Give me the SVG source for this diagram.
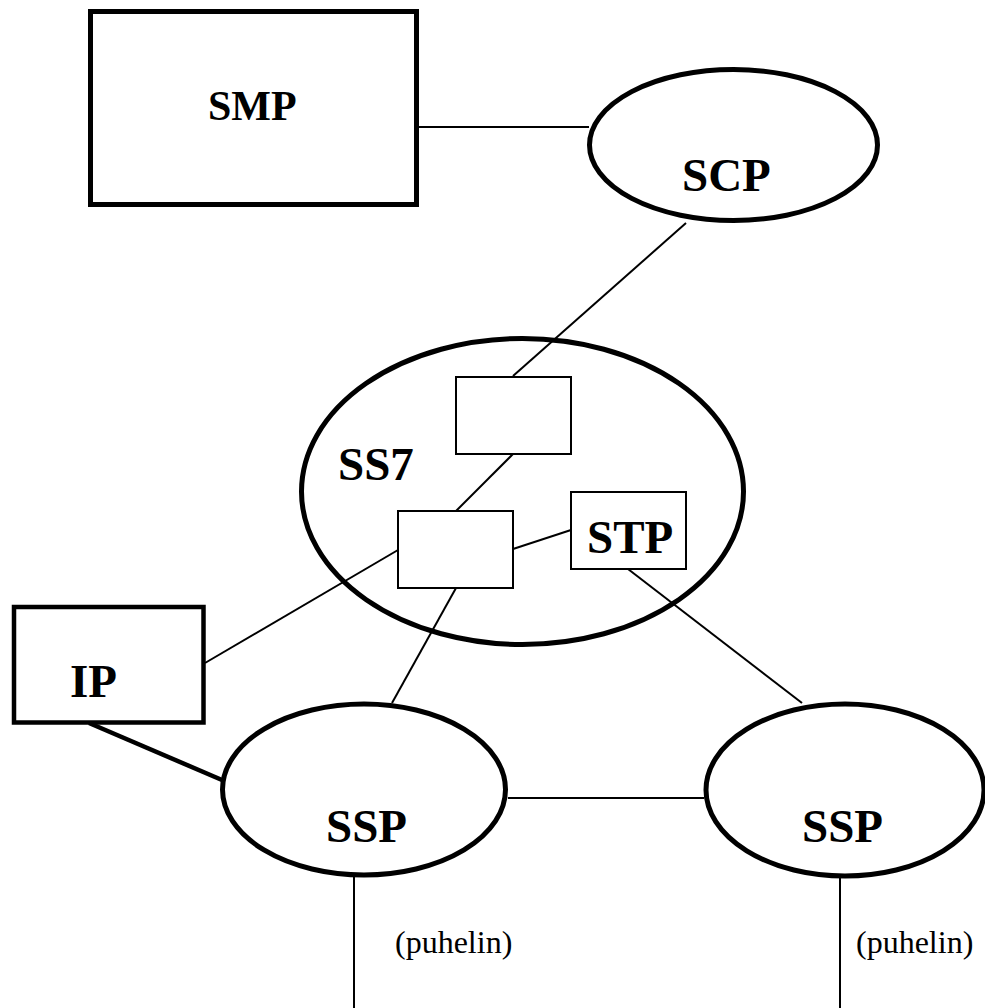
<svg xmlns="http://www.w3.org/2000/svg" width="985" height="1008" viewBox="0 0 985 1008">
  <style>
    .bg { fill: #ffffff; }
    .thick { fill: #ffffff; stroke: #000000; stroke-width: 5; }
    .thin { fill: #ffffff; stroke: #000000; stroke-width: 2; }
    .link { fill: none; stroke: #000000; stroke-width: 2; }
    .link-bold { fill: none; stroke: #000000; stroke-width: 4.5; }
    .label { font-family: "Liberation Serif", "Times New Roman", serif; font-weight: bold; font-size: 47px; fill: #000000; }
    .small { font-family: "Liberation Serif", "Times New Roman", serif; font-size: 32px; fill: #000000; }
  </style>
  <rect class="bg" x="0" y="0" width="985" height="1008"/>

  <!-- SS7 network cloud: outline only, links pass over it -->
  <g id="ss7">
    <ellipse class="thick" cx="522.5" cy="491.5" rx="221" ry="153" fill="none" style="fill:none"/>
    <text class="label" x="338" y="480">SS7</text>
  </g>

  <!-- connectors -->
  <g id="connectors">
    <line class="link" x1="419" y1="127" x2="589" y2="127"/>
    <line class="link" x1="686" y1="223" x2="513" y2="376"/>
    <line class="link" x1="513" y1="454" x2="456" y2="511"/>
    <line class="link" x1="513" y1="549" x2="571" y2="530"/>
    <line class="link" x1="398" y1="550" x2="205" y2="663"/>
    <line class="link" x1="456" y1="588" x2="392" y2="703"/>
    <line class="link" x1="628" y1="569" x2="802" y2="703"/>
    <line class="link-bold" x1="89" y1="723" x2="222" y2="780"/>
    <line class="link" x1="508" y1="798" x2="704" y2="798"/>
    <line class="link" x1="354" y1="877" x2="354" y2="1008"/>
    <line class="link" x1="840" y1="878" x2="840" y2="1008"/>
  </g>

  <g id="smp">
    <rect class="thick" x="90.5" y="11.5" width="326" height="193"/>
    <text class="label" x="208" y="120" style="font-size:42px">SMP</text>
  </g>

  <g id="scp">
    <ellipse class="thick" cx="733.5" cy="145" rx="144" ry="75.5"/>
    <text class="label" x="682" y="191">SCP</text>
  </g>

  <g id="stp-a">
    <rect class="thin" x="456" y="377" width="115" height="77"/>
  </g>

  <g id="stp-b">
    <rect class="thin" x="398" y="511" width="115" height="77"/>
  </g>

  <g id="stp">
    <rect class="thin" x="571" y="492" width="115" height="77"/>
    <text class="label" x="587" y="553">STP</text>
  </g>

  <g id="ip">
    <rect class="thick" x="14" y="607" width="189.5" height="115.5" style="stroke-width:4.5"/>
    <text class="label" x="70" y="697">IP</text>
  </g>

  <g id="ssp-left">
    <ellipse class="thick" cx="364" cy="789.5" rx="141.5" ry="85.5"/>
    <text class="label" x="326" y="842">SSP</text>
  </g>

  <g id="ssp-right">
    <ellipse class="thick" cx="845" cy="790" rx="139" ry="86"/>
    <text class="label" x="802" y="842">SSP</text>
  </g>

  <g id="phone-labels">
    <text class="small" x="395" y="953">(puhelin)</text>
    <text class="small" x="856" y="953">(puhelin)</text>
  </g>
</svg>
